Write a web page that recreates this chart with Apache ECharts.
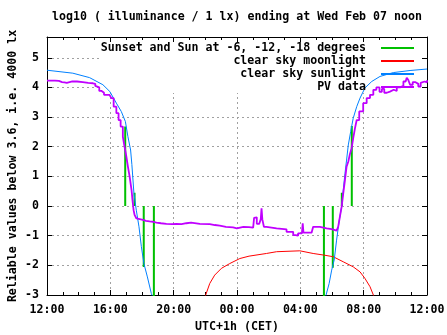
<!DOCTYPE html>
<html>
<head>
<meta charset="utf-8">
<script src="https://cdn.jsdelivr.net/npm/echarts@6/dist/echarts.min.js"></script>
<style>html,body{margin:0;padding:0;background:#fff}#c{width:447px;height:335px}</style>
</head>
<body>
<div id="c"></div>
<script>
// hours since Wed 12:00 (previous day noon) -> log10 illuminance
const titleText = 'log10 ( illuminance / 1 lx) ending at Wed Feb 07 noon';
const seriesNames = ['Sunset and Sun at -6, -12, -18 degrees', 'clear sky moonlight', 'clear sky sunlight', 'PV data'];
const xTickHours = [0, 4, 8, 12, 16, 20, 24];

const twilightHours = [4.94, 5.53, 6.11, 6.75, 17.49, 18.05, 18.62, 19.25];
const twilightLog = [2.68, 0.45, -2.06, -3.5, -3.5, -2.08, 0.45, 2.7];

const moonHours = [9.99, 10.28, 10.59, 11.02, 11.54, 12.18, 12.76, 13.86, 14.5, 15.97, 16.81, 17.55, 18.08, 18.71, 19.34, 19.77, 20.08, 20.4, 20.65];
const moonLog = [-3.05, -2.61, -2.33, -2.1, -1.94, -1.77, -1.69, -1.6, -1.54, -1.51, -1.6, -1.66, -1.71, -1.88, -2.05, -2.22, -2.44, -2.72, -3.05];

const sunEveningHours = [0, 1.63, 2.69, 3.53, 3.97, 4.38, 4.69, 4.95, 5.11, 5.28, 5.36, 5.49, 5.64, 5.81, 5.96, 6.12, 6.34, 6.59, 6.7];
const sunEveningLog = [4.58, 4.48, 4.33, 4.09, 3.86, 3.47, 3.19, 2.85, 2.34, 1.89, 1.4, 0.43, -0.14, -0.7, -1.37, -1.94, -2.39, -2.95, -3.1];
const sunMorningHours = [17.6, 17.82, 17.98, 18.14, 18.29, 18.46, 18.61, 18.71, 18.82, 18.92, 19.03, 19.18, 19.34, 19.56, 19.77, 20.08, 20.51, 21.03, 21.87, 22.93, 24];
const sunMorningLog = [-3.05, -2.61, -2.16, -1.82, -1.15, -0.47, -0.02, 0.54, 1.1, 1.55, 2.06, 2.51, 2.96, 3.35, 3.64, 3.98, 4.2, 4.37, 4.5, 4.57, 4.62];

const pvHours = [0, 0.5, 0.6, 0.75, 0.95, 1.1, 1.25, 1.35, 1.6, 1.9, 2.26, 2.6, 2.9, 3.05, 3.15, 3.3, 3.45, 3.6, 3.95, 4.06, 4.21, 4.38, 4.52, 4.65, 4.79, 4.9, 5.01, 5.11, 5.22, 5.34, 5.4, 5.47, 5.53, 5.65, 5.74, 6.06, 6.25, 6.48, 6.7, 6.91, 7.2, 7.54, 7.9, 8.17, 8.5, 8.8, 9.1, 9.65, 10.28, 10.6, 10.91, 11.3, 11.75, 11.99, 12.4, 12.76, 13.02, 13.08, 13.12, 13.2, 13.25, 13.4, 13.5, 13.55, 13.6, 13.7, 13.86, 14.5, 15.13, 15.55, 15.7, 15.86, 16.1, 16.15, 16.2, 16.71, 16.81, 17.24, 17.66, 17.98, 18.29, 18.39, 18.5, 18.61, 18.71, 18.82, 18.92, 19.03, 19.13, 19.24, 19.34, 19.45, 19.56, 19.72, 19.97, 20.19, 20.4, 20.61, 20.8, 21.0, 21.15, 21.3, 21.46, 21.66, 21.9, 22.09, 22.3, 22.51, 22.65, 22.72, 22.82, 22.93, 23.1, 23.25, 23.45, 23.6, 23.67, 23.85, 24];
const pvLog = [4.23, 4.23, 4.22, 4.18, 4.17, 4.15, 4.14, 4.2, 4.2, 4.18, 4.15, 4.14, 4.12, 4.05, 4.0, 3.88, 3.82, 3.75, 3.75, 3.64, 3.35, 3.13, 2.9, 2.68, 2.34, 2.0, 1.67, 1.33, 0.99, 0.54, 0.2, -0.14, -0.3, -0.42, -0.47, -0.5, -0.52, -0.53, -0.56, -0.58, -0.6, -0.61, -0.6, -0.61, -0.58, -0.56, -0.6, -0.61, -0.64, -0.66, -0.7, -0.72, -0.75, -0.7, -0.71, -0.73, -0.7, -0.4, -0.36, -0.38, -0.6, -0.62, -0.45, -0.08, -0.45, -0.7, -0.75, -0.79, -0.87, -0.98, -1.0, -0.92, -0.9, -0.58, -0.9, -0.92, -0.7, -0.75, -0.78, -0.83, -0.79, -0.7, -0.36, -0.02, 0.43, 0.88, 1.33, 1.5, 1.75, 1.95, 2.29, 2.62, 2.9, 3.19, 3.47, 3.64, 3.75, 3.92, 4.0, 3.85, 3.95, 3.82, 3.86, 3.92, 3.88, 4.0, 4.05, 4.2, 4.18, 4.33, 4.25, 4.09, 4.18, 4.12, 4.03, 4.15, 4.2, 4.17, 4.24];

const colors = ['#00c000', '#ff0000', '#0080ff', '#c000ff'];
const FONT = 'DejaVu Sans Mono';
const FS = 11.6;

function zip(xs, ys) { return xs.map((x, i) => [x, ys[i]]); }
const twilightData = [];
twilightHours.forEach((t, i) => { twilightData.push([t, 0], [t, twilightLog[i]], [t, '-']); });
const sunData = zip(sunEveningHours, sunEveningLog).concat([[12, '-']], zip(sunMorningHours, sunMorningLog));

function hourLabel(v) {
  if (xTickHours.indexOf(v) < 0) return '';
  const h = (12 + v) % 24;
  return (h < 10 ? '0' : '') + h + ':00';
}
const txt = { fontFamily: FONT, fontWeight: 'bold', fontSize: FS, color: '#000' };
const gridLine = { show: true, lineStyle: { color: '#a0a0a0', type: [2, 3], width: 1 } };
const blackLine = { onZero: false, lineStyle: { color: '#000', width: 1 } };

const chart = echarts.init(document.getElementById('c'), null, { renderer: 'canvas' });
const legendRows = [48, 61, 74, 87];
chart.setOption({
  animation: false,
  backgroundColor: '#fff',
  title: { text: titleText, left: 52, top: 11, padding: 0, textStyle: Object.assign({}, txt) },
  grid: { left: 47, right: 20, top: 37, bottom: 40, containLabel: false, outerBoundsMode: 'none' },
  graphic: { elements: [{ type: 'rect', z: 1, shape: { x: 100, y: 42, width: 321, height: 51 }, style: { fill: '#fff' }, silent: true }] },
  legend: seriesNames.map((n, i) => ({
    data: [n], orient: 'vertical', right: 33, top: legendRows[i] - 7, padding: 0,
    itemWidth: 33, itemHeight: 2, icon: 'rect', align: 'right', selectedMode: false,
    textStyle: Object.assign({}, txt, { padding: [0, 10, 0, 0], lineHeight: 14 })
  })),
  xAxis: [
    { type: 'value', min: 0, max: 24, interval: 4, position: 'bottom',
      name: 'UTC+1h (CET)', nameLocation: 'middle', nameGap: 26, nameMoveOverlap: false, nameTextStyle: Object.assign({}, txt),
      axisLine: blackLine,
      axisTick: { inside: true, length: 5, lineStyle: { color: '#000' } },
      minorTick: { show: true, splitNumber: 4, length: 3, lineStyle: { color: '#000' } },
      axisLabel: Object.assign({ formatter: hourLabel, margin: 9 }, txt),
      splitLine: gridLine },
    { type: 'value', min: 0, max: 24, interval: 4, position: 'top',
      axisLine: blackLine,
      axisTick: { inside: true, length: 5, lineStyle: { color: '#000' } },
      minorTick: { show: true, splitNumber: 4, length: 3, lineStyle: { color: '#000' } },
      axisLabel: { show: false }, splitLine: { show: false } }
  ],
  yAxis: [
    { type: 'value', min: -3, max: 5.7, interval: 1, position: 'left',
      name: 'Reliable values below 3.6, i.e. 4000 lx', nameLocation: 'middle', nameGap: 28, nameMoveOverlap: false, nameTextStyle: Object.assign({}, txt),
      axisLine: blackLine,
      axisTick: { inside: true, length: 5, lineStyle: { color: '#000' } },
      axisLabel: Object.assign({ margin: 8, showMaxLabel: false, formatter: v => (Number.isInteger(v) ? String(v) : '') }, txt),
      splitLine: gridLine },
    { type: 'value', min: -3, max: 5.7, interval: 1, position: 'right',
      axisLine: blackLine,
      axisTick: { inside: true, length: 5, lineStyle: { color: '#000' } },
      axisLabel: { show: false }, splitLine: { show: false } }
  ],
  series: [
    { name: seriesNames[0], type: 'line', data: twilightData, color: colors[0], showSymbol: false, symbol: 'none',
      connectNulls: false, lineStyle: { width: 2, color: colors[0] }, z: 3 },
    { name: seriesNames[1], type: 'line', data: zip(moonHours, moonLog), color: colors[1], showSymbol: false, symbol: 'none',
      lineStyle: { width: 1, color: colors[1] }, z: 3 },
    { name: seriesNames[2], type: 'line', data: sunData, color: colors[2], showSymbol: false, symbol: 'none',
      connectNulls: false, lineStyle: { width: 1, color: colors[2] }, z: 3 },
    { name: seriesNames[3], type: 'line', data: zip(pvHours, pvLog), color: colors[3], showSymbol: false, symbol: 'none',
      step: 'end', lineStyle: { width: 1.8, color: colors[3] }, z: 3 }
  ]
});
</script>
</body>
</html>
